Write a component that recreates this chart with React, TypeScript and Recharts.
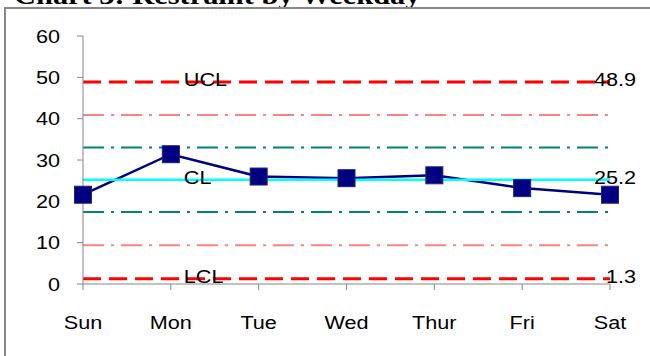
import React from 'react';
import { LineChart, Line, XAxis, YAxis, LabelList } from 'recharts';

// Restraint counts per weekday with their control limits
const days = ['Sun', 'Mon', 'Tue', 'Wed', 'Thur', 'Fri', 'Sat'];
const restraint = [21.6, 31.4, 26.0, 25.6, 26.3, 23.2, 21.6];
const uclValue = 48.9;
const clValue = 25.2;
const lclValue = 1.3;
const upper2Value = 40.9;
const upper1Value = 33.0;
const lower1Value = 17.4;
const lower2Value = 9.4;
const yTicks = [0, 10, 20, 30, 40, 50, 60];

const data = days.map((day, i) => ({
  day,
  restraint: restraint[i],
  ucl: uclValue,
  cl: clValue,
  lcl: lclValue,
  upper2: upper2Value,
  upper1: upper1Value,
  lower1: lower1Value,
  lower2: lower2Value,
}));

const FONT = '"Liberation Sans", Arial, sans-serif';
const FONT_SIZE = 18.5;
const STRETCH = 1.17;
const AXIS_GRAY = '#868686';

const XTick = (props: any) => {
  const { x, y, payload } = props;
  return (
    <text
      transform={`translate(${x},${y + 37}) scale(${STRETCH},1)`}
      textAnchor="middle"
      fontFamily={FONT}
      fontSize={FONT_SIZE}
      fill="#000"
    >
      {payload.value}
    </text>
  );
};

const YTick = (props: any) => {
  const { x, y, payload } = props;
  return (
    <text
      transform={`translate(${x},${y + 6.5}) scale(${STRETCH},1)`}
      textAnchor="end"
      fontFamily={FONT}
      fontSize={FONT_SIZE}
      fill="#000"
    >
      {payload.value}
    </text>
  );
};

// Name label beside Monday, value label at the right end (Saturday)
const limitLabel = (name: string, value: number) => (props: any) => {
  const { x, y, index } = props;
  if (index === 1) {
    return (
      <text
        transform={`translate(${x + 13},${y + 4.5}) scale(${STRETCH},1)`}
        fontFamily={FONT}
        fontSize={FONT_SIZE}
        fill="#000"
      >
        {name}
      </text>
    );
  }
  if (index === 6) {
    return (
      <text
        transform={`translate(${x + 26},${y + 4.5}) scale(${STRETCH},1)`}
        textAnchor="end"
        fontFamily={FONT}
        fontSize={FONT_SIZE}
        fill="#000"
      >
        {value}
      </text>
    );
  }
  return null;
};

const SquareDot = (props: any) => {
  const { cx, cy, index } = props;
  return (
    <rect
      key={`sq-${index}`}
      x={cx - 8.5}
      y={cy - 8.5}
      width={17}
      height={17}
      fill="#000080"
      stroke="#22227a"
      strokeWidth={1}
    />
  );
};

export default function App() {
  return (
    <div
      style={{
        position: 'absolute',
        left: 0,
        top: 0,
        width: 650,
        height: 356,
        overflow: 'hidden',
        background: '#fff',
      }}
    >
      <svg width={650} height={20} style={{ position: 'absolute', left: 0, top: 0 }}>
        <text
          x={12}
          y={4}
          fontFamily='"Liberation Serif", "Times New Roman", serif'
          fontWeight="bold"
          fontSize={26}
          transform={`scale(${STRETCH},1)`}
          fill="#000"
        >
          Chart 3: Restraint by Weekday
        </text>
      </svg>
      <div
        style={{
          position: 'absolute',
          left: 4,
          top: 7,
          width: 700,
          height: 400,
          borderTop: '2px solid #878787',
          borderLeft: '2px solid #878787',
          boxSizing: 'border-box',
        }}
      />
      <LineChart
        width={650}
        height={356}
        data={data}
        margin={{ top: 36, right: 40, bottom: 0, left: 0 }}
        style={{ position: 'absolute', left: 0, top: 0 }}
      >
        <XAxis
          dataKey="day"
          height={72}
          padding={{ left: 0, right: 0 }}
          tickSize={6}
          tickMargin={2}
          axisLine={{ stroke: AXIS_GRAY }}
          tickLine={{ stroke: AXIS_GRAY }}
          tick={<XTick />}
          interval={0}
        />
        <YAxis
          width={83}
          domain={[0, 60]}
          ticks={yTicks}
          tickSize={6}
          tickMargin={17}
          axisLine={{ stroke: AXIS_GRAY }}
          tickLine={{ stroke: AXIS_GRAY }}
          tick={<YTick />}
          interval={0}
        />
        <Line dataKey="upper2" stroke="#FF8080" strokeWidth={2} strokeDasharray="21 7 3 7" dot={false} isAnimationActive={false} />
        <Line dataKey="lower2" stroke="#FF8080" strokeWidth={2} strokeDasharray="21 7 3 7" dot={false} isAnimationActive={false} />
        <Line dataKey="upper1" stroke="#008080" strokeWidth={2} strokeDasharray="21 7 3 7" dot={false} isAnimationActive={false} />
        <Line dataKey="lower1" stroke="#008080" strokeWidth={2} strokeDasharray="21 7 3 7" dot={false} isAnimationActive={false} />
        <Line dataKey="ucl" stroke="#FF0000" strokeWidth={3} strokeDasharray="18 8" dot={false} isAnimationActive={false}>
          <LabelList dataKey="ucl" content={limitLabel('UCL', uclValue)} />
        </Line>
        <Line dataKey="lcl" stroke="#FF0000" strokeWidth={3} strokeDasharray="18 8" dot={false} isAnimationActive={false}>
          <LabelList dataKey="lcl" content={limitLabel('LCL', lclValue)} />
        </Line>
        <Line
          dataKey="restraint"
          stroke="#000080"
          strokeWidth={2.5}
          dot={<SquareDot />}
          isAnimationActive={false}
        />
        <Line dataKey="cl" stroke="#00FFFF" strokeWidth={2.5} dot={false} isAnimationActive={false}>
          <LabelList dataKey="cl" content={limitLabel('CL', clValue)} />
        </Line>
      </LineChart>
    </div>
  );
}
